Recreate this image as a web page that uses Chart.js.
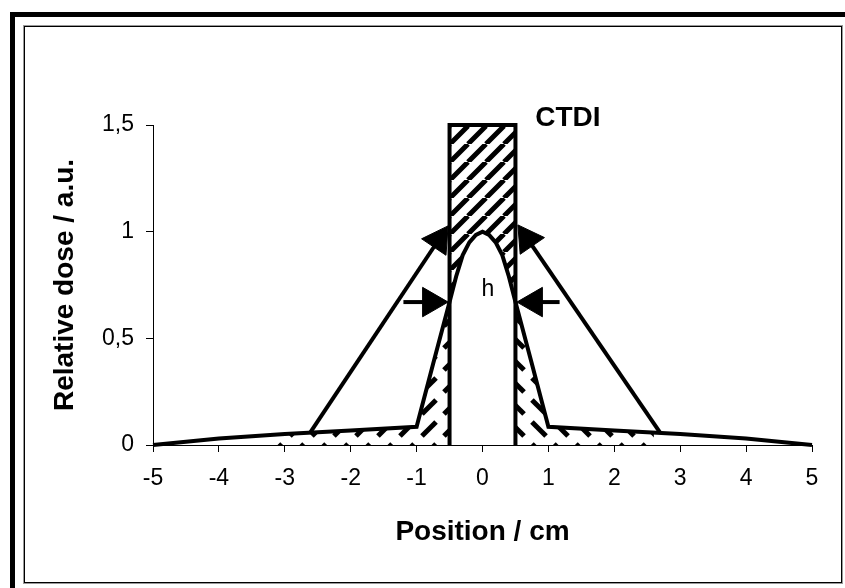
<!DOCTYPE html>
<html>
<head>
<meta charset="utf-8">
<script src="https://cdn.jsdelivr.net/npm/chart.js@4.4.1/dist/chart.umd.min.js"></script>
<style>
  html, body { margin: 0; padding: 0; background: #fff; }
  body { width: 845px; height: 588px; overflow: hidden; position: relative; }
  .outer { position: absolute; left: 10px; top: 12px; width: 900px; height: 600px;
           border-left: 5px solid #000; border-top: 5px solid #000; }
  .inner { position: absolute; left: 24px; top: 26px; width: 816px; height: 555px;
           border: 1px solid #000; box-shadow: 0 0 0 1px #999; }
  #dose { position: absolute; left: 0; top: 0; }
</style>
</head>
<body>
<div class="outer"></div>
<div class="inner"></div>
<canvas id="dose" width="845" height="588"></canvas>
<script>
// dose profile (cm / a.u.)
const positions = [-5, -4, -3, -2, -1, -0.75, -0.5, -0.4, -0.3, -0.2, -0.1, 0, 0.1, 0.2, 0.3, 0.4, 0.5, 0.75, 1, 2, 3, 4, 5];
const dose      = [0, 0.03, 0.052, 0.068, 0.085, 0.38, 0.67, 0.79, 0.89, 0.95, 0.985, 1, 0.985, 0.95, 0.89, 0.79, 0.67, 0.38, 0.085, 0.068, 0.052, 0.03, 0];

// CTDI box
const ctdiX = [-0.5, -0.5, 0.5, 0.5];
const ctdiY = [0, 1.5, 1.5, 0];

// hatched tails under the profile
const tailHatchX = [-3.2, 2.6];
const tailHatchY = [0.05, 0.06];

// arrows: [start, head]
const arrowBigLeftX  = [-2.61, -0.667];
const arrowBigLeftY  = [0.06, 0.961];
const arrowBigRightX = [2.69, 0.683];
const arrowBigRightY = [0.06, 0.966];
const arrowHLeftX  = [-1.2, -0.78];
const arrowHRightX = [1.17, 0.78];
const arrowHY = [0.67, 0.67];

const yTickValues = [0, 0.5, 1, 1.5];
const yTickLabels = ['0', '0,5', '1', '1,5'];

const notes  = ['CTDI', 'h'];
const notesX = [1.295, 0.083];
const notesY = [1.53, 0.727];

const FONT = 'Arial, "Liberation Sans", sans-serif';

function pts(xs, ys) { return xs.map((x, i) => ({x: x, y: ys[i]})); }

function hatch(size, width, dir, dashed) {
  const c = document.createElement('canvas');
  c.width = c.height = size;
  const g = c.getContext('2d');
  g.strokeStyle = '#000';
  g.lineWidth = width;
  g.beginPath();
  if (dashed) {
    const a = size * 0.18, b = size * 0.82;
    if (dir > 0) { g.moveTo(a, b); g.lineTo(b, a); }
    else { g.moveTo(a, a); g.lineTo(b, b); }
  } else {
    for (let k = -1; k <= 1; k++) {
      if (dir > 0) { g.moveTo(k * size, size); g.lineTo(k * size + size, 0); }
      else { g.moveTo(k * size, 0); g.lineTo(k * size + size, size); }
    }
  }
  g.stroke();
  return g.createPattern(c, 'repeat');
}

const profile = pts(positions, dose);

// region inside the box above the profile
const boxHatch = [{x: ctdiX[1], y: ctdiY[1]}, {x: ctdiX[2], y: ctdiY[2]}]
  .concat(profile.filter(p => p.x >= ctdiX[1] && p.x <= ctdiX[2]).reverse());

const leftHatch = [{x: tailHatchX[0], y: 0}, {x: tailHatchX[0], y: tailHatchY[0]}]
  .concat(profile.filter(p => p.x > tailHatchX[0] && p.x <= ctdiX[0]))
  .concat([{x: ctdiX[0], y: 0}]);

const rightHatch = [{x: ctdiX[3], y: 0}]
  .concat(profile.filter(p => p.x >= ctdiX[3] && p.x < tailHatchX[1]))
  .concat([{x: tailHatchX[1], y: tailHatchY[1]}, {x: tailHatchX[1], y: 0}]);

function arrow(xs, ys, rot) {
  return {
    data: pts(xs, ys), borderColor: '#000', borderWidth: 4, clip: false,
    pointStyle: 'triangle', pointRadius: [0, 17], pointRotation: [0, rot],
    pointBackgroundColor: '#000', pointBorderColor: '#000', pointBorderWidth: 1
  };
}

const notesPlugin = {
  id: 'notes',
  afterDatasetsDraw(chart) {
    const ctx = chart.ctx, sx = chart.scales.x, sy = chart.scales.y;
    ctx.save();
    ctx.fillStyle = '#000';
    ctx.textAlign = 'center';
    ctx.textBaseline = 'middle';
    notes.forEach((t, i) => {
      ctx.font = (i === 0 ? 'bold 28px ' : '23px ') + FONT;
      ctx.fillText(t, sx.getPixelForValue(notesX[i]), sy.getPixelForValue(notesY[i]));
    });
    ctx.restore();
  }
};

new Chart(document.getElementById('dose'), {
  type: 'line',
  data: {
    datasets: [
      { data: profile, borderColor: '#000', borderWidth: 4, clip: false },
      { data: pts(ctdiX, ctdiY), borderColor: '#000', borderWidth: 4, clip: false, borderJoinStyle: 'miter' },
      arrow(arrowBigLeftX, arrowBigLeftY, 34),
      arrow(arrowBigRightX, arrowBigRightY, -34.5),
      arrow(arrowHLeftX, arrowHY, 90),
      arrow(arrowHRightX, arrowHY, -90),
      { data: boxHatch, fill: 'shape', borderColor: 'rgba(0,0,0,0)', borderWidth: 1, backgroundColor: hatch(18, 5, 1, false) },
      { data: leftHatch, fill: 'shape', borderColor: 'rgba(0,0,0,0)', borderWidth: 1, backgroundColor: hatch(22, 5, 1, true) },
      { data: rightHatch, fill: 'shape', borderColor: 'rgba(0,0,0,0)', borderWidth: 1, backgroundColor: hatch(22, 5, -1, true) }
    ]
  },
  options: {
    responsive: false,
    animation: false,
    devicePixelRatio: 1,
    events: [],
    layout: { padding: { left: 48, top: 125, right: 33, bottom: 39 } },
    elements: { point: { radius: 0 }, line: { tension: 0 } },
    plugins: { legend: { display: false }, tooltip: { enabled: false } },
    scales: {
      x: {
        type: 'linear', min: -5, max: 5,
        afterFit: s => { s.height = 104; },
        ticks: { stepSize: 1, color: '#000', padding: 13, maxRotation: 0, autoSkip: false,
                 font: { size: 23, family: FONT } },
        grid: { drawOnChartArea: false, tickLength: 7, color: '#000' },
        border: { color: '#000', width: 1 },
        title: { display: true, text: 'Position / cm', color: '#000', padding: 0,
                 font: { size: 28, weight: 'bold', family: FONT } }
      },
      y: {
        min: 0, max: 1.5,
        afterFit: s => { s.width = 105; },
        afterBuildTicks: s => { s.ticks = yTickValues.map(v => ({value: v})); },
        ticks: { color: '#000', padding: 12, font: { size: 23, family: FONT },
                 callback: v => yTickLabels[yTickValues.indexOf(v)] },
        grid: { drawOnChartArea: false, tickLength: 7, color: '#000' },
        border: { color: '#000', width: 1 },
        title: { display: true, text: 'Relative dose / a.u.', color: '#000', padding: 0,
                 font: { size: 28, weight: 'bold', family: FONT } }
      }
    }
  },
  plugins: [notesPlugin]
});
</script>
</body>
</html>
